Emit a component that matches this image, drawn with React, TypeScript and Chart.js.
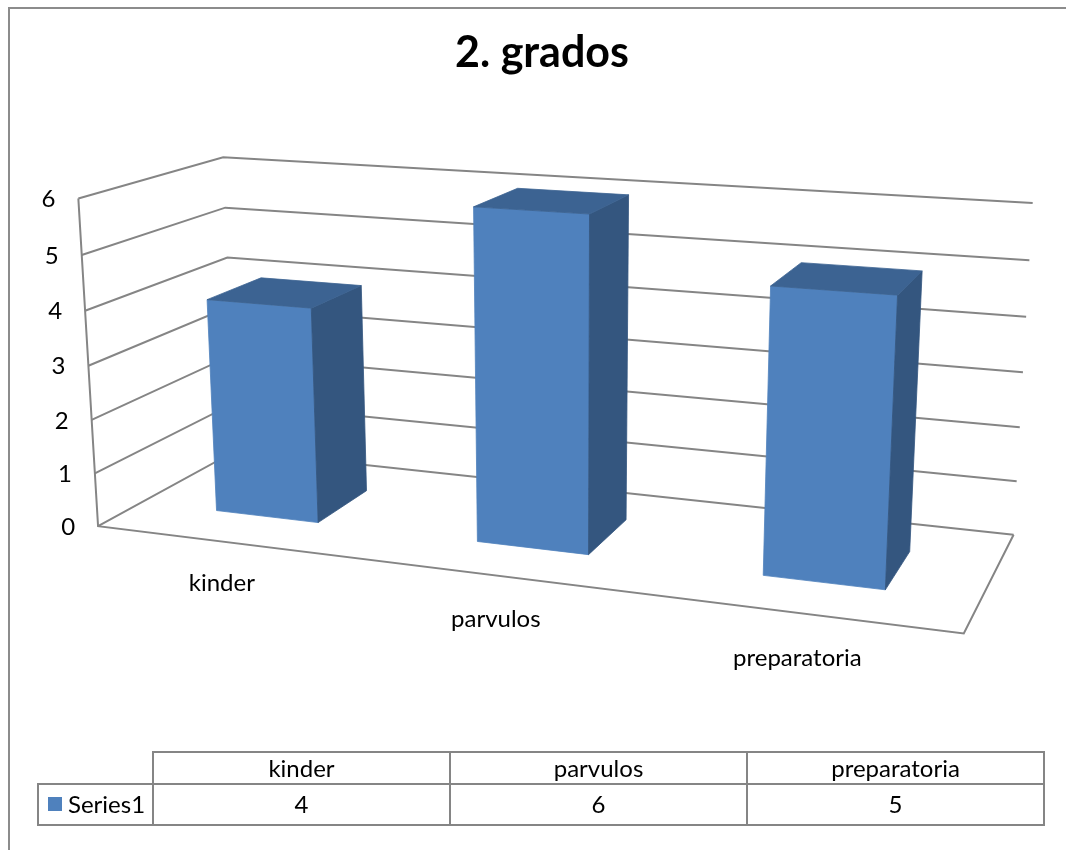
import React, { useEffect, useRef } from "react";
import { Chart, registerables } from "chart.js";

Chart.register(...registerables);

// ---------- data ----------
const chartTitle = "2. grados";
const categories = ["kinder", "parvulos", "preparatoria"];
const seriesName = "Series1";
const seriesValues = [4, 6, 5];
const yMin = 0;
const yMax = 6;
const yStep = 1;

// ---------- layout / style ----------
const W = 1066;
const H = 850;
const FONT = "Lato, 'Noto Sans', sans-serif";
const BAR_FRONT = "#4F81BD";
const BAR_SIDE = "#34567F";
const BAR_TOP = "#3C6392";
const GRID = "#858585";
const BORDER = "#8c8c8c";
const TEXT = "#000000";

// anchors of the 3D frame: [X, Yfraction, Z, pageX, pageY]
const FRAME_ANCHORS: number[][] = [
  [0, 0, 0, 97, 527],
  [0, 1 / 6, 0, 95, 473],
  [0, 2 / 6, 0, 92, 419],
  [0, 3 / 6, 0, 89, 366],
  [0, 4 / 6, 0, 86, 311],
  [0, 5 / 6, 0, 82, 255],
  [0, 1, 0, 77, 199],
  [0, 1, 1, 223, 157],
  [0, 5 / 6, 1, 225, 208],
  [0, 4 / 6, 1, 228, 257],
  [1, 0, 1, 1013, 535],
  [1, 1 / 6, 1, 1017, 482],
  [1, 2 / 6, 1, 1020, 427],
  [1, 3 / 6, 1, 1023, 372],
  [1, 4 / 6, 1, 1026, 317],
  [1, 5 / 6, 1, 1029, 260],
  [1, 1, 1, 1033, 203],
  [1, 0, 0, 964, 633],
];
const BAR_Z0 = 0.3;
const BAR_Z1 = 0.7;

const TABLE = {
  left: 38,
  headLeft: 153,
  colW: 297,
  top: 752,
  mid: 784,
  bottom: 825,
};

function fitProjection(anchors: number[][]) {
  const S = 500, CX = 533, CY = 425;
  const rows: number[][] = [];
  const rhs: number[] = [];
  for (const [X, Y, Z, px, py] of anchors) {
    const x = (px - CX) / S;
    const y = (py - CY) / S;
    rows.push([X, Y, Z, 1, 0, 0, 0, 0, -x * X, -x * Y, -x * Z]);
    rhs.push(x);
    rows.push([0, 0, 0, 0, X, Y, Z, 1, -y * X, -y * Y, -y * Z]);
    rhs.push(y);
  }
  const n = 11;
  const A = Array.from({ length: n }, () => new Array(n).fill(0));
  const b = new Array(n).fill(0);
  rows.forEach((r, k) => {
    for (let i = 0; i < n; i++) {
      b[i] += r[i] * rhs[k];
      for (let j = 0; j < n; j++) A[i][j] += r[i] * r[j];
    }
  });
  for (let c = 0; c < n; c++) {
    let p = c;
    for (let r = c + 1; r < n; r++) if (Math.abs(A[r][c]) > Math.abs(A[p][c])) p = r;
    [A[c], A[p]] = [A[p], A[c]];
    [b[c], b[p]] = [b[p], b[c]];
    for (let r = 0; r < n; r++) {
      if (r === c) continue;
      const f = A[r][c] / A[c][c];
      for (let j = c; j < n; j++) A[r][j] -= f * A[c][j];
      b[r] -= f * b[c];
    }
  }
  const m = b.map((v, i) => v / A[i][i]);
  return (X: number, Y: number, Z: number): [number, number] => {
    const d = m[8] * X + m[9] * Y + m[10] * Z + 1;
    const u = (m[0] * X + m[1] * Y + m[2] * Z + m[3]) / d;
    const v = (m[4] * X + m[5] * Y + m[6] * Z + m[7]) / d;
    return [u * S + CX, v * S + CY];
  };
}

const project = fitProjection(FRAME_ANCHORS);

function poly(ctx: CanvasRenderingContext2D, pts: [number, number][], fill?: string, close = false) {
  ctx.beginPath();
  pts.forEach((p, i) => (i ? ctx.lineTo(p[0], p[1]) : ctx.moveTo(p[0], p[1])));
  if (close) ctx.closePath();
  if (fill) {
    ctx.fillStyle = fill;
    ctx.fill();
    ctx.strokeStyle = fill;
    ctx.lineWidth = 0.8;
    ctx.stroke();
  } else {
    ctx.stroke();
  }
}

const scene3d = {
  id: "scene3d",
  afterDraw(chart: any) {
    const ctx: CanvasRenderingContext2D = chart.ctx;
    const area = chart.chartArea;
    const xs = chart.scales.x;
    const ys = chart.scales.y;
    const nx = (px: number) => (px - area.left) / (area.right - area.left);
    const ny = (py: number) => (area.bottom - py) / (area.bottom - area.top);
    const P = project;

    ctx.save();
    // outer chart border (top & left visible)
    ctx.strokeStyle = BORDER;
    ctx.lineWidth = 2;
    ctx.beginPath();
    ctx.moveTo(9, H);
    ctx.lineTo(9, 8);
    ctx.lineTo(W, 8);
    ctx.stroke();

    // gridlines on left & back walls
    const tickVals: number[] = (ys.ticks && ys.ticks.length
      ? ys.ticks.map((t: any) => t.value)
      : Array.from({ length: (yMax - yMin) / yStep + 1 }, (_, i) => yMin + i * yStep));
    ctx.strokeStyle = GRID;
    ctx.lineWidth = 2;
    ctx.lineJoin = "miter";
    for (const v of tickVals) {
      const Y = ny(ys.getPixelForValue(v));
      poly(ctx, [P(0, Y, 0), P(0, Y, 1), P(1, Y, 1)]);
    }
    const Ytop = ny(ys.getPixelForValue(yMax));
    const Ybot = ny(ys.getPixelForValue(yMin));
    poly(ctx, [P(0, Ytop, 0), P(0, Ybot, 0), P(1, Ybot, 0), P(1, Ybot, 1)]);

    // bars
    const meta = chart.getDatasetMeta(0);
    meta.data.forEach((bar: any) => {
      const { x, y, base, width } = bar.getProps(["x", "y", "base", "width"], true);
      const X0 = nx(x - width / 2);
      const X1 = nx(x + width / 2);
      const Yt = ny(y);
      const Yb = ny(base);
      poly(ctx, [P(X0, Yb, BAR_Z0), P(X1, Yb, BAR_Z0), P(X1, Yt, BAR_Z0), P(X0, Yt, BAR_Z0)], BAR_FRONT, true);
      poly(ctx, [P(X1, Yb, BAR_Z0), P(X1, Yb, BAR_Z1), P(X1, Yt, BAR_Z1), P(X1, Yt, BAR_Z0)], BAR_SIDE, true);
      poly(ctx, [P(X0, Yt, BAR_Z0), P(X1, Yt, BAR_Z0), P(X1, Yt, BAR_Z1), P(X0, Yt, BAR_Z1)], BAR_TOP, true);
    });

    // value-axis labels
    ctx.fillStyle = TEXT;
    ctx.font = `24px ${FONT}`;
    ctx.textAlign = "right";
    ctx.textBaseline = "middle";
    for (const v of tickVals) {
      const Y = ny(ys.getPixelForValue(v));
      const p = P(0, Y, 0);
      ctx.fillText(String(v), p[0] - 23, p[1] + 1);
    }

    // category labels
    ctx.textAlign = "center";
    categories.forEach((c, i) => {
      const Xc = nx(xs.getPixelForValue(i));
      const p = P(Xc, Ybot, 0);
      ctx.fillText(c, p[0] - 4, p[1] + 41 + i * 2);
    });

    // data table
    ctx.strokeStyle = GRID;
    ctx.lineWidth = 2;
    const T = TABLE;
    const right = T.headLeft + T.colW * categories.length;
    ctx.strokeRect(T.headLeft, T.top, right - T.headLeft, T.mid - T.top);
    ctx.strokeRect(T.left, T.mid, right - T.left, T.bottom - T.mid);
    for (let i = 0; i <= categories.length; i++) {
      const cx = T.headLeft + i * T.colW;
      ctx.beginPath();
      ctx.moveTo(cx, T.top);
      ctx.lineTo(cx, T.bottom);
      ctx.stroke();
    }
    ctx.fillStyle = TEXT;
    ctx.textAlign = "center";
    categories.forEach((c, i) => {
      const cx = T.headLeft + (i + 0.5) * T.colW;
      ctx.fillText(c, cx, (T.top + T.mid) / 2 + 1);
      ctx.fillText(String(seriesValues[i]), cx, (T.mid + T.bottom) / 2 + 1);
    });
    ctx.fillStyle = BAR_FRONT;
    ctx.fillRect(48, 797, 14, 14);
    ctx.fillStyle = TEXT;
    ctx.textAlign = "left";
    ctx.fillText(seriesName, 68, (T.mid + T.bottom) / 2 + 1);
    ctx.restore();
  },
};

export default function App() {
  const ref = useRef<HTMLCanvasElement | null>(null);
  useEffect(() => {
    if (!ref.current) return;
    const chart = new Chart(ref.current, {
      type: "bar",
      data: {
        labels: categories,
        datasets: [
          {
            label: seriesName,
            data: seriesValues,
            backgroundColor: "rgba(0,0,0,0)",
            borderWidth: 0,
            categoryPercentage: 0.4,
            barPercentage: 1,
          },
        ],
      },
      options: {
        responsive: false,
        animation: false,
        devicePixelRatio: 1,
        layout: { padding: { left: 18, right: 0, top: 0, bottom: 0 } },
        scales: {
          x: { display: false, offset: true, grid: { display: false } },
          y: { display: false, min: yMin, max: yMax, ticks: { stepSize: yStep } },
        },
        plugins: {
          legend: { display: false },
          tooltip: { enabled: false },
          title: {
            display: true,
            text: chartTitle,
            color: TEXT,
            font: { family: FONT, size: 43, weight: "bold" },
            padding: { top: 27, bottom: 10 },
          },
        },
      },
      plugins: [scene3d],
    });
    return () => chart.destroy();
  }, []);
  return (
    <canvas
      ref={ref}
      width={W}
      height={H}
      style={{ position: "fixed", left: 0, top: 0, width: W, height: H, background: "#fff" }}
    />
  );
}
